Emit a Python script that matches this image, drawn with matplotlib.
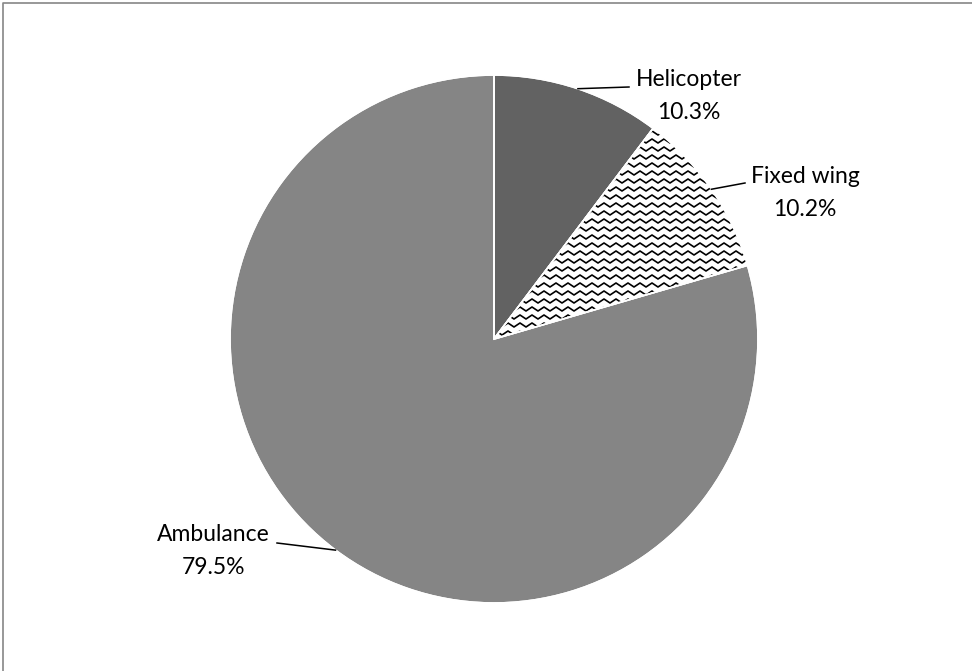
import numpy as np
import matplotlib.pyplot as plt
from matplotlib.patches import Wedge
from matplotlib.lines import Line2D
from matplotlib.collections import LineCollection

plt.rcParams['font.family'] = ['Lato', 'DejaVu Sans']

# data
labels = ['Helicopter', 'Fixed wing', 'Ambulance']
shares = [10.3, 10.2, 79.5]
colors = ['#626262', '#ffffff', '#858585']
# where the label text sits (pixels from top-left)
label_pos = [(689, 96), (805, 193), (213, 551)]
line_end = [(629, 87), (745, 183), (277, 543)]

W, H = 972, 671
cx, cy, r = 494, 339, 264

fig = plt.figure(figsize=(W / 100, H / 100), dpi=100)
ax = fig.add_axes([0, 0, 1, 1])

wedges, _ = ax.pie(shares, colors=colors, startangle=90, counterclock=False,
                   center=(cx, H - cy), radius=r,
                   wedgeprops=dict(edgecolor='white', linewidth=1.2))

# wavy hatch for the fixed wing slice
segs = []
for yy in np.arange(H - cy - 10, H - cy + r + 10, 8):
    xs = np.arange(cx - 10, cx + r + 10, 6)
    ys = yy + np.where(np.arange(len(xs)) % 2 == 0, 2, -2)
    segs.append(np.column_stack([xs, ys]))
lc = LineCollection(segs, colors='black', linewidths=1.2, zorder=3)
ax.add_collection(lc)
lc.set_clip_path(wedges[1])

# white outlines on top of the hatch
for w in wedges:
    ax.add_patch(Wedge(w.center, w.r, w.theta1, w.theta2, fill=False,
                       edgecolor='white', linewidth=1.2, zorder=4))

# labels with leader lines from the middle of each slice edge
for w, name, val, (tx, ty), (lx, ly) in zip(wedges, labels, shares, label_pos, line_end):
    mid = np.deg2rad((w.theta1 + w.theta2) / 2)
    sx = cx + r * np.cos(mid)
    sy = (H - cy) + r * np.sin(mid)
    ax.plot([sx, lx], [sy, H - ly], color='black', lw=1.1, zorder=5)
    ax.text(tx, H - (ty - 16.5), name, ha='center', va='center',
            fontsize=16.5, color='black', zorder=6)
    ax.text(tx, H - (ty + 16.5), f'{val:.1f}%', ha='center', va='center',
            fontsize=16.5, color='black', zorder=6)

ax.set_xlim(0, W)
ax.set_ylim(0, H)
ax.set_aspect('equal')
ax.axis('off')

# frame: only top and left edges show
fig.lines.append(Line2D([2.5 / W, 2.5 / W, 1], [0, 1 - 2.5 / H, 1 - 2.5 / H],
                        transform=fig.transFigure, color='#868686', lw=1.2))

fig.savefig('out.png', dpi=100)
